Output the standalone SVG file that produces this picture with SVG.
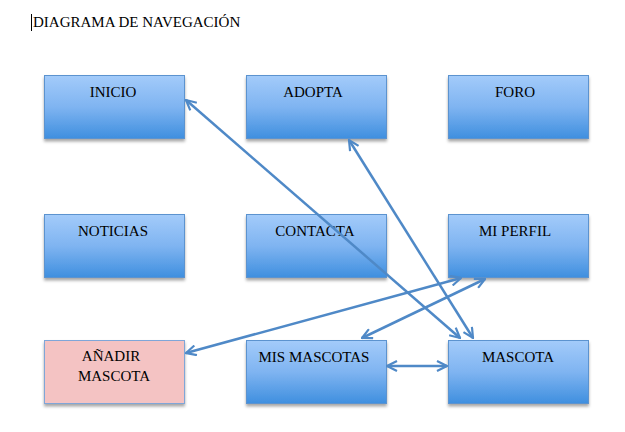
<svg xmlns="http://www.w3.org/2000/svg" width="625" height="432" viewBox="0 0 625 432">
<defs>
<linearGradient id="g" x1="0" y1="0" x2="0" y2="1">
<stop offset="0" stop-color="#a3cbfa"/>
<stop offset="0.5" stop-color="#7fb4f1"/>
<stop offset="1" stop-color="#3f8fdf"/>
</linearGradient>
<filter id="sh" x="-10%" y="-10%" width="120%" height="130%">
<feDropShadow dx="0" dy="2.5" stdDeviation="1.5" flood-color="#000" flood-opacity="0.35"/>
</filter>
<marker id="ah" viewBox="0 0 12 12" refX="11" refY="6" markerWidth="12" markerHeight="12" markerUnits="userSpaceOnUse" orient="auto-start-reverse">
<path d="M1,1 L11,6 L1,11" fill="none" stroke="#4f89c7" stroke-width="2.2" stroke-linejoin="miter"/>
</marker>
<style>
.box{fill:url(#g);stroke:#5b93cf;stroke-width:1;filter:url(#sh)}
.pink{fill:#f4c3c3;stroke:#7fa6d8;stroke-width:1;filter:url(#sh)}
.t{font-family:"Liberation Serif","DejaVu Serif",serif;font-size:15px;fill:#000;text-anchor:middle}
.c{stroke:#4f89c7;stroke-width:2.5;fill:none;marker-start:url(#ah);marker-end:url(#ah)}
</style>
</defs>
<rect width="625" height="432" fill="#fff"/>
<line x1="31.5" y1="14" x2="31.5" y2="31" stroke="#000" stroke-width="1"/>
<text x="33" y="27" style="font-family:'Liberation Serif','DejaVu Serif',serif;font-size:15px" fill="#000">DIAGRAMA DE NAVEGACIÓN</text>
<g id="n-inicio"><rect class="box" x="44.5" y="75.5" width="140" height="63"/><text class="t" x="113" y="97">INICIO</text></g>
<g id="n-adopta"><rect class="box" x="246.5" y="75.5" width="140" height="63"/><text class="t" x="313" y="97">ADOPTA</text></g>
<g id="n-foro"><rect class="box" x="448.5" y="75.5" width="140" height="63"/><text class="t" x="515" y="97">FORO</text></g>
<g id="n-noticias"><rect class="box" x="44.5" y="214.5" width="140" height="63"/><text class="t" x="113" y="236">NOTICIAS</text></g>
<g id="n-contacta"><rect class="box" x="246.5" y="214.5" width="140" height="63"/><text class="t" x="315" y="236">CONTACTA</text></g>
<g id="n-miperfil"><rect class="box" x="448.5" y="214.5" width="140" height="63"/><text class="t" x="515" y="236">MI PERFIL</text></g>
<g id="n-anadir"><rect class="pink" x="44.5" y="340.5" width="140" height="63"/><text class="t" x="111" y="361">AÑADIR</text><text class="t" x="114" y="381">MASCOTA</text></g>
<g id="n-mismascotas"><rect class="box" x="246.5" y="340.5" width="140" height="63"/><text class="t" x="314" y="362">MIS MASCOTAS</text></g>
<g id="n-mascota"><rect class="box" x="448.5" y="340.5" width="140" height="63"/><text class="t" x="518" y="362">MASCOTA</text></g>
<g id="connectors">
<line class="c" x1="186" y1="100" x2="460" y2="338"/>
<line class="c" x1="349" y1="140" x2="473" y2="338"/>
<line class="c" x1="186" y1="353" x2="461" y2="278"/>
<line class="c" x1="362" y1="338" x2="485" y2="279"/>
<line class="c" x1="387" y1="366" x2="447" y2="366"/>
</g>
</svg>
